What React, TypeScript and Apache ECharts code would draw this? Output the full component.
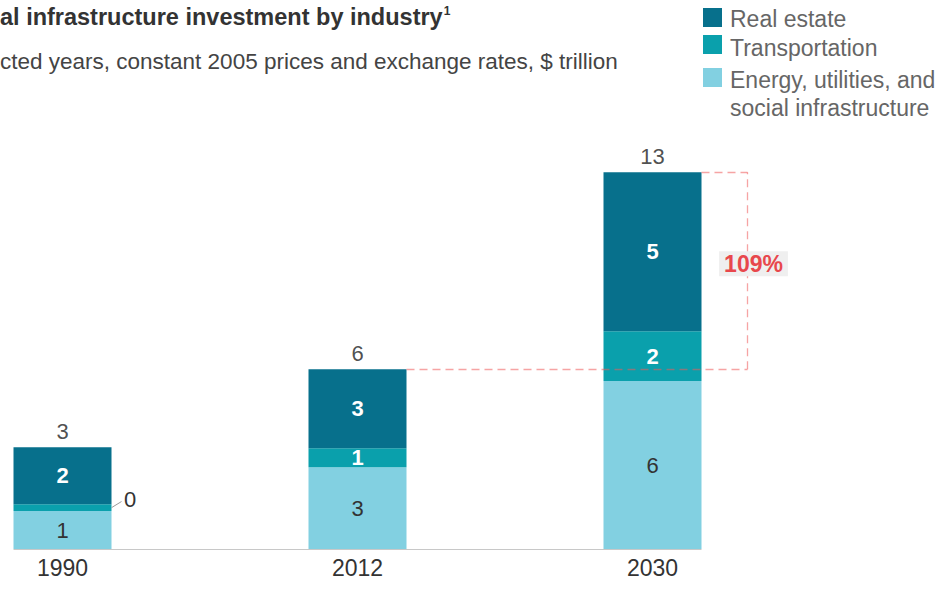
import React, { useEffect, useRef } from "react";
import * as echarts from "echarts";

// ---- data ----
const years: string[] = ["1990", "2012", "2030"];
const realEstate: number[] = [1.95, 2.7, 5.45];
const transportation: number[] = [0.23, 0.65, 1.7];
const energy: number[] = [1.3, 2.8, 5.75];
const seriesNames: string[] = [
  "Real estate",
  "Transportation",
  "Energy, utilities, and\nsocial infrastructure",
];
const growthLabel = "109%";
const titleText = "al infrastructure investment by industry";
const footnoteMark = "1";
const subtitleText = "cted years, constant 2005 prices and exchange rates, $ trillion";

// ---- styling ----
const FONT = "'Liberation Sans', Arial, Helvetica, sans-serif";
const COLORS = { re: "#07708c", tr: "#0aa0ac", en: "#82d0e1" };
// the chart canvas starts left of the page so the first bar can sit near the page edge
const SHIFT = 85;
const PAGE_W = 944;
const CHART_W = PAGE_W + SHIFT;
const GRID_RIGHT = 144;
const BAR_W = 98;

export default function App() {
  const ref = useRef<HTMLDivElement | null>(null);

  useEffect(() => {
    if (!ref.current) return;
    const chart = echarts.init(ref.current, null, { renderer: "svg" });

    const totals = years.map((_, i) => energy[i] + transportation[i] + realEstate[i]);
    const band = (CHART_W - GRID_RIGHT) / years.length;
    const half = BAR_W / 2 / band;
    const last = years.length - 1;
    const bx = last + half + 46 / band;
    const tPrev = totals[last - 1];
    const tLast = totals[last];

    const dash = { color: "rgba(238,90,90,0.55)", type: [8, 5] as any, width: 1.3 };

    const smallIdx = transportation.findIndex((v) => v < 0.5);
    const leaderLines: any[] = [];
    if (smallIdx >= 0) {
      const y0 = energy[smallIdx] + transportation[smallIdx] / 2;
      leaderLines.push([
        {
          coord: [smallIdx + half, y0],
          lineStyle: { color: "#9a9a9a", width: 1, type: "solid" },
          label: {
            show: true,
            position: "end",
            distance: 3,
            formatter: String(Math.round(transportation[smallIdx])),
            fontSize: 22,
            color: "#333",
          },
        },
        { coord: [smallIdx + half + 0.034, y0 + 0.21] },
      ]);
    }

    const squareTops = [8, 35, 68];
    const textCenters = [18.5, 48, 79.5];
    const legendColors = [COLORS.re, COLORS.tr, COLORS.en];
    const legendGraphics: any[] = [];
    seriesNames.forEach((name, i) => {
      legendGraphics.push({
        type: "rect",
        left: SHIFT + 703,
        top: squareTops[i],
        shape: { width: 19, height: 19 },
        style: { fill: legendColors[i] },
      });
      legendGraphics.push({
        type: "text",
        left: SHIFT + 730,
        top: textCenters[i] - 14.25,
        style: {
          text: name,
          fontSize: 23,
          lineHeight: 28.5,
          fill: "#666",
          fontFamily: FONT,
        },
      });
    });

    const option: any = {
      animation: false,
      backgroundColor: "#ffffff",
      textStyle: { fontFamily: FONT },
      title: [
        {
          text: `{t|${titleText}}{s|${footnoteMark}}`,
          left: SHIFT,
          top: 5,
          padding: 0,
          textStyle: {
            rich: {
              t: { fontSize: 23.5, fontWeight: "bold", color: "#333", fontFamily: FONT },
              s: { fontSize: 12, color: "#333", verticalAlign: "top", fontFamily: FONT, padding: [0, 0, 0, 1] },
            },
          },
        },
        {
          text: subtitleText,
          left: SHIFT,
          top: 50,
          padding: 0,
          textStyle: { fontSize: 22.5, fontWeight: "normal", color: "#444", fontFamily: FONT },
        },
      ],
      graphic: legendGraphics,
      grid: { left: 0, right: GRID_RIGHT, top: 140, bottom: 48 },
      xAxis: [
        {
          type: "category",
          data: years,
          axisLine: { show: false },
          axisTick: { show: false },
          axisLabel: { fontSize: 23, color: "#333", margin: 7 },
        },
        { type: "value", min: -0.5, max: years.length - 0.5, show: false },
      ],
      yAxis: { type: "value", min: 0, max: 14, show: false },
      series: [
        {
          name: seriesNames[2],
          type: "bar",
          stack: "total",
          barWidth: BAR_W,
          data: energy,
          itemStyle: { color: COLORS.en },
          label: {
            show: true,
            position: "inside",
            fontSize: 22,
            color: "#333",
            formatter: (p: any) => String(Math.round(p.value)),
          },
          silent: true,
        },
        {
          name: seriesNames[1],
          type: "bar",
          stack: "total",
          barWidth: BAR_W,
          data: transportation.map((v) => (v < 0.5 ? { value: v, label: { show: false } } : v)),
          itemStyle: { color: COLORS.tr },
          label: {
            show: true,
            position: "inside",
            fontSize: 22,
            fontWeight: "bold",
            color: "#fff",
            formatter: (p: any) => String(Math.round(p.value)),
          },
          silent: true,
        },
        {
          name: seriesNames[0],
          type: "bar",
          stack: "total",
          barWidth: BAR_W,
          data: realEstate,
          itemStyle: { color: COLORS.re },
          label: {
            show: true,
            position: "inside",
            fontSize: 22,
            fontWeight: "bold",
            color: "#fff",
            formatter: (p: any) => String(Math.round(p.value)),
          },
          silent: true,
        },
        {
          name: "totals",
          type: "scatter",
          xAxisIndex: 1,
          yAxisIndex: 0,
          symbolSize: 0,
          data: totals.map((t, i) => [i, t]),
          label: {
            show: true,
            position: "top",
            distance: 5,
            fontSize: 22,
            color: "#222",
            formatter: (p: any) => String(Math.round(p.value[1])),
          },
          silent: true,
          z: 5,
          markLine: {
            silent: true,
            symbol: ["none", "none"],
            z: 5,
            label: { show: false },
            data: [
              [
                { coord: [-half, 0], lineStyle: { color: "#c8c8c8", width: 1, type: "solid" } },
                { coord: [last + half, 0] },
              ],
              [{ coord: [last - 1 + half, tPrev], lineStyle: dash }, { coord: [bx, tPrev] }],
              [{ coord: [last + half, tLast], lineStyle: dash }, { coord: [bx, tLast] }],
              [{ coord: [bx, tPrev], lineStyle: dash }, { coord: [bx, tLast] }],
              ...leaderLines,
            ],
          },
          markPoint: {
            silent: true,
            z: 10,
            symbol: "circle",
            symbolSize: 0,
            data: [
              {
                coord: [bx, (tPrev + tLast) / 2],
                label: {
                  show: true,
                  position: "inside",
                  formatter: growthLabel,
                  fontSize: 23,
                  fontWeight: "bold",
                  color: "#e8474c",
                  backgroundColor: "#efefef",
                  padding: [1, 5, 1, 5],
                  offset: [6, -7],
                },
              },
            ],
          },
        },
      ],
    };

    chart.setOption(option);
    return () => {
      chart.dispose();
    };
  }, []);

  return (
    <div
      ref={ref}
      style={{ position: "fixed", left: -SHIFT, top: 0, width: CHART_W, height: 597, background: "#fff" }}
    />
  );
}
